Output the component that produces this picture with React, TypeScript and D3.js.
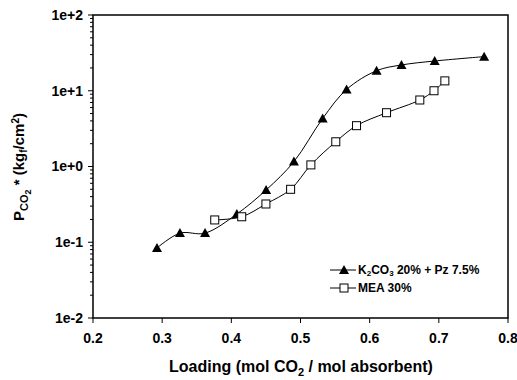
import React from "react";
import * as d3 from "d3";

const k2co3X = [0.2925, 0.3257, 0.362, 0.408, 0.4503, 0.4905, 0.532, 0.5666, 0.61, 0.646, 0.694, 0.7655];
const k2co3Y = [0.084, 0.132, 0.132, 0.236, 0.49, 1.16, 4.3, 10.4, 18.4, 21.9, 24.7, 28.2];
const meaX = [0.376, 0.415, 0.45, 0.4857, 0.515, 0.551, 0.581, 0.6244, 0.6725, 0.693, 0.7087];
const meaY = [0.197, 0.217, 0.32, 0.5, 1.05, 2.12, 3.46, 5.13, 7.55, 10.0, 13.5];
const xTicks = [0.2, 0.3, 0.4, 0.5, 0.6, 0.7, 0.8];
const yTicks = [0.01, 0.1, 1, 10, 100];
const yTickLabels = ["1e-2", "1e-1", "1e+0", "1e+1", "1e+2"];

const W = 517, H = 380;
const L = 93, R = 508, T = 15, B = 318;

export default function App() {
  const x = d3.scaleLinear().domain([0.2, 0.8]).range([L, R]);
  const y = d3.scaleLog().domain([0.01, 100]).range([B, T]);
  const line = d3.line<[number, number]>().x(d => x(d[0])).y(d => y(d[1])).curve(d3.curveCatmullRom.alpha(0.5));
  const kPts = k2co3X.map((v, i) => [v, k2co3Y[i]] as [number, number]);
  const mPts = meaX.map((v, i) => [v, meaY[i]] as [number, number]);
  const minor: number[] = [];
  for (let e = -2; e < 2; e++) for (let m = 2; m <= 9; m++) minor.push(m * Math.pow(10, e));
  const tri = (cx: number, cy: number) => `M${cx},${cy - 5}L${cx + 5},${cy + 4}L${cx - 5},${cy + 4}Z`;
  const font = "Arial, 'Liberation Sans', sans-serif";
  return (
    <svg width={W} height={H} style={{ position: "absolute", left: 0, top: 0 }} fontFamily={font}>
      <rect x={0} y={0} width={W} height={H} fill="#fff" />
      <rect x={L} y={T} width={R - L} height={B - T} fill="none" stroke="#000" strokeWidth={1.5} />
      {yTicks.map((t, i) => (
        <g key={"y" + i}>
          <line x1={L - 5} x2={L} y1={y(t)} y2={y(t)} stroke="#000" strokeWidth={1} />
          <text x={L - 10} y={y(t)} dy="0.35em" textAnchor="end" fontSize={14} fontWeight="bold">{yTickLabels[i]}</text>
        </g>
      ))}
      {minor.map((t, i) => (
        <line key={"m" + i} x1={L - 3} x2={L} y1={y(t)} y2={y(t)} stroke="#000" strokeWidth={1} />
      ))}
      {xTicks.map((t, i) => (
        <g key={"x" + i}>
          <line x1={x(t)} x2={x(t)} y1={B} y2={B + 5} stroke="#000" strokeWidth={1} />
          <text x={x(t)} y={343} textAnchor="middle" fontSize={14} fontWeight="bold">{t.toFixed(1)}</text>
        </g>
      ))}
      <text x={301} y={372} textAnchor="middle" fontSize={16} fontWeight="bold">
        Loading (mol CO<tspan fontSize={11} dy={4}>2</tspan><tspan dy={-4}> / mol absorbent)</tspan>
      </text>
      <text transform={`translate(24,167) rotate(-90)`} textAnchor="middle" fontSize={15} fontWeight="bold">
        P<tspan fontSize={11} dy={4}>CO</tspan><tspan fontSize={9} dy={3}>2</tspan><tspan dy={-7}> * (kg</tspan><tspan fontSize={10} dy={3}>f</tspan><tspan dy={-3}>/cm</tspan><tspan fontSize={10} dy={-5}>2</tspan><tspan dy={5}>)</tspan>
      </text>
      <path d={line(kPts) || ""} fill="none" stroke="#000" strokeWidth={1} />
      <path d={line(mPts) || ""} fill="none" stroke="#000" strokeWidth={1} />
      {kPts.map((p, i) => (
        <path key={"k" + i} d={tri(x(p[0]), y(p[1]))} fill="#000" />
      ))}
      {mPts.map((p, i) => (
        <rect key={"q" + i} x={x(p[0]) - 4} y={y(p[1]) - 4} width={8} height={8} fill="#fff" stroke="#000" strokeWidth={1} />
      ))}
      <g>
        <line x1={330} x2={356} y1={270} y2={270} stroke="#000" />
        <path d={tri(344, 270)} fill="#000" />
        <text x={358} y={270} dy="0.35em" fontSize={12} fontWeight="bold">
          K<tspan fontSize={8} dy={2}>2</tspan><tspan dy={-2}>CO</tspan><tspan fontSize={8} dy={2}>3</tspan><tspan dy={-2}> 20% + Pz 7.5%</tspan>
        </text>
        <line x1={330} x2={356} y1={288} y2={288} stroke="#000" />
        <rect x={340} y={284} width={8} height={8} fill="#fff" stroke="#000" />
        <text x={358} y={288} dy="0.35em" fontSize={12} fontWeight="bold">MEA 30%</text>
      </g>
    </svg>
  );
}
